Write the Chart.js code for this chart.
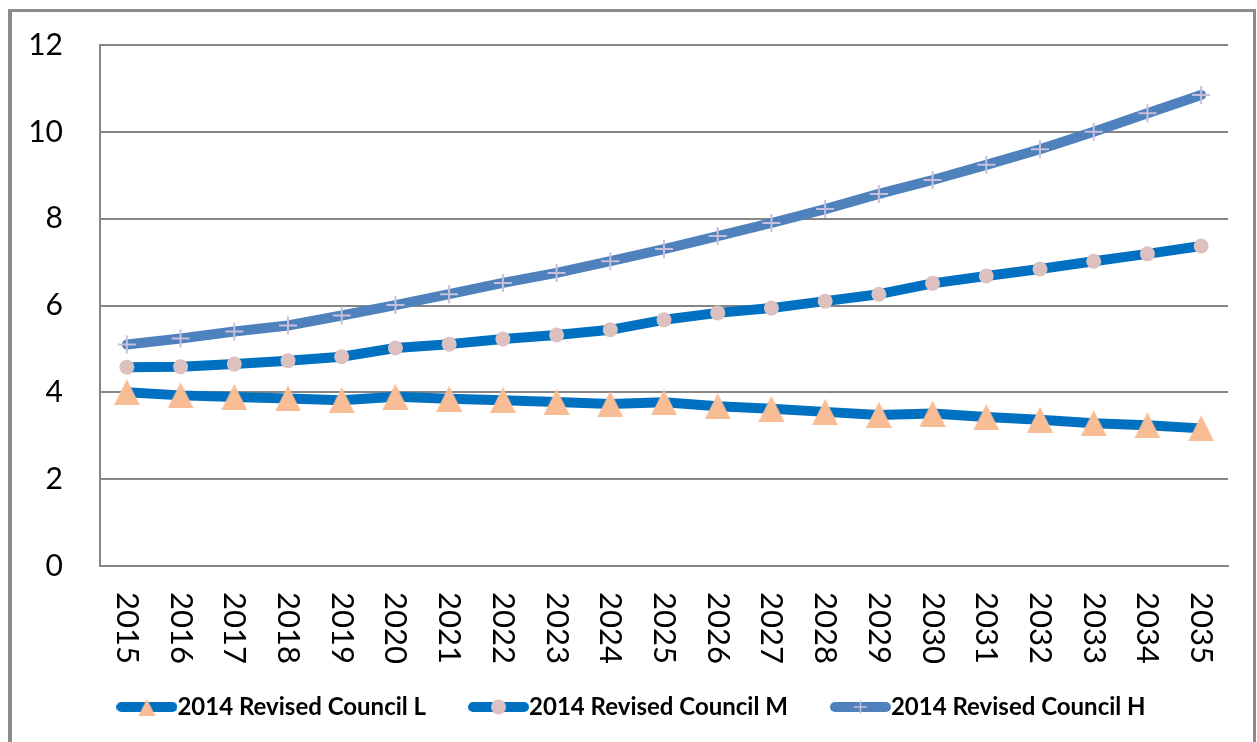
<!DOCTYPE html>
<html>
<head>
<meta charset="utf-8">
<title>2014 Revised Council projections</title>
<script src="https://cdn.jsdelivr.net/npm/chart.js@4.4.1/dist/chart.umd.min.js"></script>
<style>
  html, body { margin: 0; padding: 0; background: #fff; overflow: hidden; }
  .frame {
    position: absolute; left: 8px; top: 9px; width: 1248px; height: 800px;
    box-sizing: border-box;
    border-left: 4px solid #8c8c8c; border-top: 3px solid #8c8c8c; border-right: 3px solid #8c8c8c;
  }
  .wrap { position: absolute; left: 0; top: 0; width: 1257px; height: 742px; }
</style>
</head>
<body>
<div class="frame"></div>
<div class="wrap"><canvas id="councilChart"></canvas></div>
<script>
// Projection series, one value per year
const years = ['2015', '2016', '2017', '2018', '2019', '2020', '2021', '2022', '2023', '2024', '2025',
               '2026', '2027', '2028', '2029', '2030', '2031', '2032', '2033', '2034', '2035'];
const councilL = [4.0, 3.93, 3.89, 3.86, 3.82, 3.9, 3.85, 3.82, 3.78, 3.73, 3.77,
                  3.68, 3.62, 3.55, 3.48, 3.51, 3.43, 3.37, 3.29, 3.24, 3.17];
const councilM = [4.58, 4.59, 4.65, 4.73, 4.82, 5.02, 5.11, 5.23, 5.32, 5.44, 5.67,
                  5.83, 5.94, 6.1, 6.26, 6.51, 6.68, 6.84, 7.02, 7.19, 7.37];
const councilH = [5.1, 5.24, 5.4, 5.54, 5.77, 6.01, 6.26, 6.52, 6.75, 7.02, 7.3,
                  7.6, 7.9, 8.22, 8.57, 8.89, 9.24, 9.6, 10.0, 10.43, 10.85];
const seriesNames = ['2014 Revised Council L', '2014 Revised Council M', '2014 Revised Council H'];
const yTicks = [0, 2, 4, 6, 8, 10, 12];

const GRID = '#868686';
const BLUE = '#0070c0';
const STEEL = '#4f81bd';
const PEACH = '#f9bd95';
const ROSE = '#ddc1c1';
const LILAC = '#c8bfda';

// triangle marker centred on its box (the built-in one sits on its circumcentre)
function triangleMarker(size, color) {
    const c = document.createElement('canvas');
    c.width = size;
    c.height = size;
    const g = c.getContext('2d');
    g.fillStyle = color;
    g.beginPath();
    g.moveTo(size / 2, 0);
    g.lineTo(size, size);
    g.lineTo(0, size);
    g.closePath();
    g.fill();
    return c;
}

// small line + marker swatch for the legend
function swatch(lineColor, marker) {
    const c = document.createElement('canvas');
    c.width = 61;
    c.height = 20;
    const g = c.getContext('2d');
    g.strokeStyle = lineColor;
    g.lineWidth = 10;
    g.lineCap = 'round';
    g.beginPath();
    g.moveTo(5, 10);
    g.lineTo(56, 10);
    g.stroke();
    marker(g, 30.5, 10);
    return c;
}

const swatches = [
    swatch(BLUE, (g, x, y) => {
        g.fillStyle = PEACH;
        g.beginPath();
        g.moveTo(x, y - 8);
        g.lineTo(x + 8.5, y + 9);
        g.lineTo(x - 8.5, y + 9);
        g.closePath();
        g.fill();
    }),
    swatch(BLUE, (g, x, y) => {
        g.fillStyle = ROSE;
        g.beginPath();
        g.arc(x, y, 7.5, 0, Math.PI * 2);
        g.fill();
    }),
    swatch(STEEL, (g, x, y) => {
        g.strokeStyle = LILAC;
        g.lineWidth = 1.5;
        g.beginPath();
        g.moveTo(x - 6, y); g.lineTo(x + 6, y);
        g.moveTo(x, y - 6); g.lineTo(x, y + 6);
        g.stroke();
    })
];

// year labels run top-to-bottom under each category
const verticalYears = {
    id: 'verticalYears',
    afterDraw(chart) {
        const { ctx, chartArea, scales: { x } } = chart;
        ctx.save();
        ctx.font = '31px Lato';
        ctx.fillStyle = '#000';
        ctx.textAlign = 'left';
        ctx.textBaseline = 'middle';
        years.forEach((yr, i) => {
            ctx.save();
            ctx.translate(x.getPixelForValue(i), chartArea.bottom + 26);
            ctx.rotate(Math.PI / 2);
            ctx.fillText(yr, 0, 0);
            ctx.restore();
        });
        ctx.restore();
    }
};

// legend row sits a little right of the canvas centre
const legendNudge = {
    id: 'legendNudge',
    afterLayout(chart) {
        chart.legend.left += 13;
        chart.legend.right += 13;
    }
};

const ctx = document.getElementById('councilChart').getContext('2d');

new Chart(ctx, {
    type: 'line',
    data: {
        labels: years,
        datasets: [
            {
                label: seriesNames[0],
                data: councilL,
                borderColor: BLUE,
                borderWidth: 10,
                pointStyle: triangleMarker(26, PEACH),
                pointRadius: 13,
                pointBackgroundColor: PEACH,
                pointBorderWidth: 0
            },
            {
                label: seriesNames[1],
                data: councilM,
                borderColor: BLUE,
                borderWidth: 10,
                pointStyle: 'circle',
                pointRadius: 7.5,
                pointBackgroundColor: ROSE,
                pointBorderWidth: 0
            },
            {
                label: seriesNames[2],
                data: councilH,
                borderColor: STEEL,
                borderWidth: 10,
                pointStyle: 'cross',
                pointRadius: 9,
                pointBorderColor: LILAC,
                pointBorderWidth: 2
            }
        ]
    },
    options: {
        responsive: true,
        maintainAspectRatio: false,
        animation: false,
        layout: { padding: { left: 20, right: 29, top: 45, bottom: 13 } },
        elements: {
            line: { tension: 0, borderCapStyle: 'round', borderJoinStyle: 'round' }
        },
        plugins: {
            tooltip: { enabled: false },
            legend: {
                position: 'bottom',
                labels: {
                    usePointStyle: true,
                    pointStyleWidth: 37,
                    padding: 54,
                    color: '#000',
                    font: { family: 'Lato', size: 24, weight: 'bold' },
                    generateLabels: chart => chart.data.datasets.map((ds, i) => ({
                        text: ds.label,
                        pointStyle: swatches[i],
                        datasetIndex: i,
                        hidden: false,
                        lineWidth: 0
                    }))
                }
            }
        },
        scales: {
            x: {
                offset: true,
                grid: { display: false },
                border: { display: true, color: GRID, width: 2 },
                ticks: { display: false },
                afterFit: scale => { scale.height = 75; }
            },
            y: {
                min: 0,
                max: 12,
                grid: { color: GRID, lineWidth: 2, drawTicks: false },
                border: { display: true, color: GRID, width: 2 },
                afterBuildTicks: scale => { scale.ticks = yTicks.map(v => ({ value: v })); },
                ticks: {
                    padding: 37,
                    color: '#000',
                    // short line height keeps the label overhang inside the top margin
                    font: { family: 'Lato', size: 30, lineHeight: 0.5 }
                },
                afterFit: scale => { scale.width = 80; }
            }
        }
    },
    plugins: [verticalYears, legendNudge]
});
</script>
</body>
</html>
